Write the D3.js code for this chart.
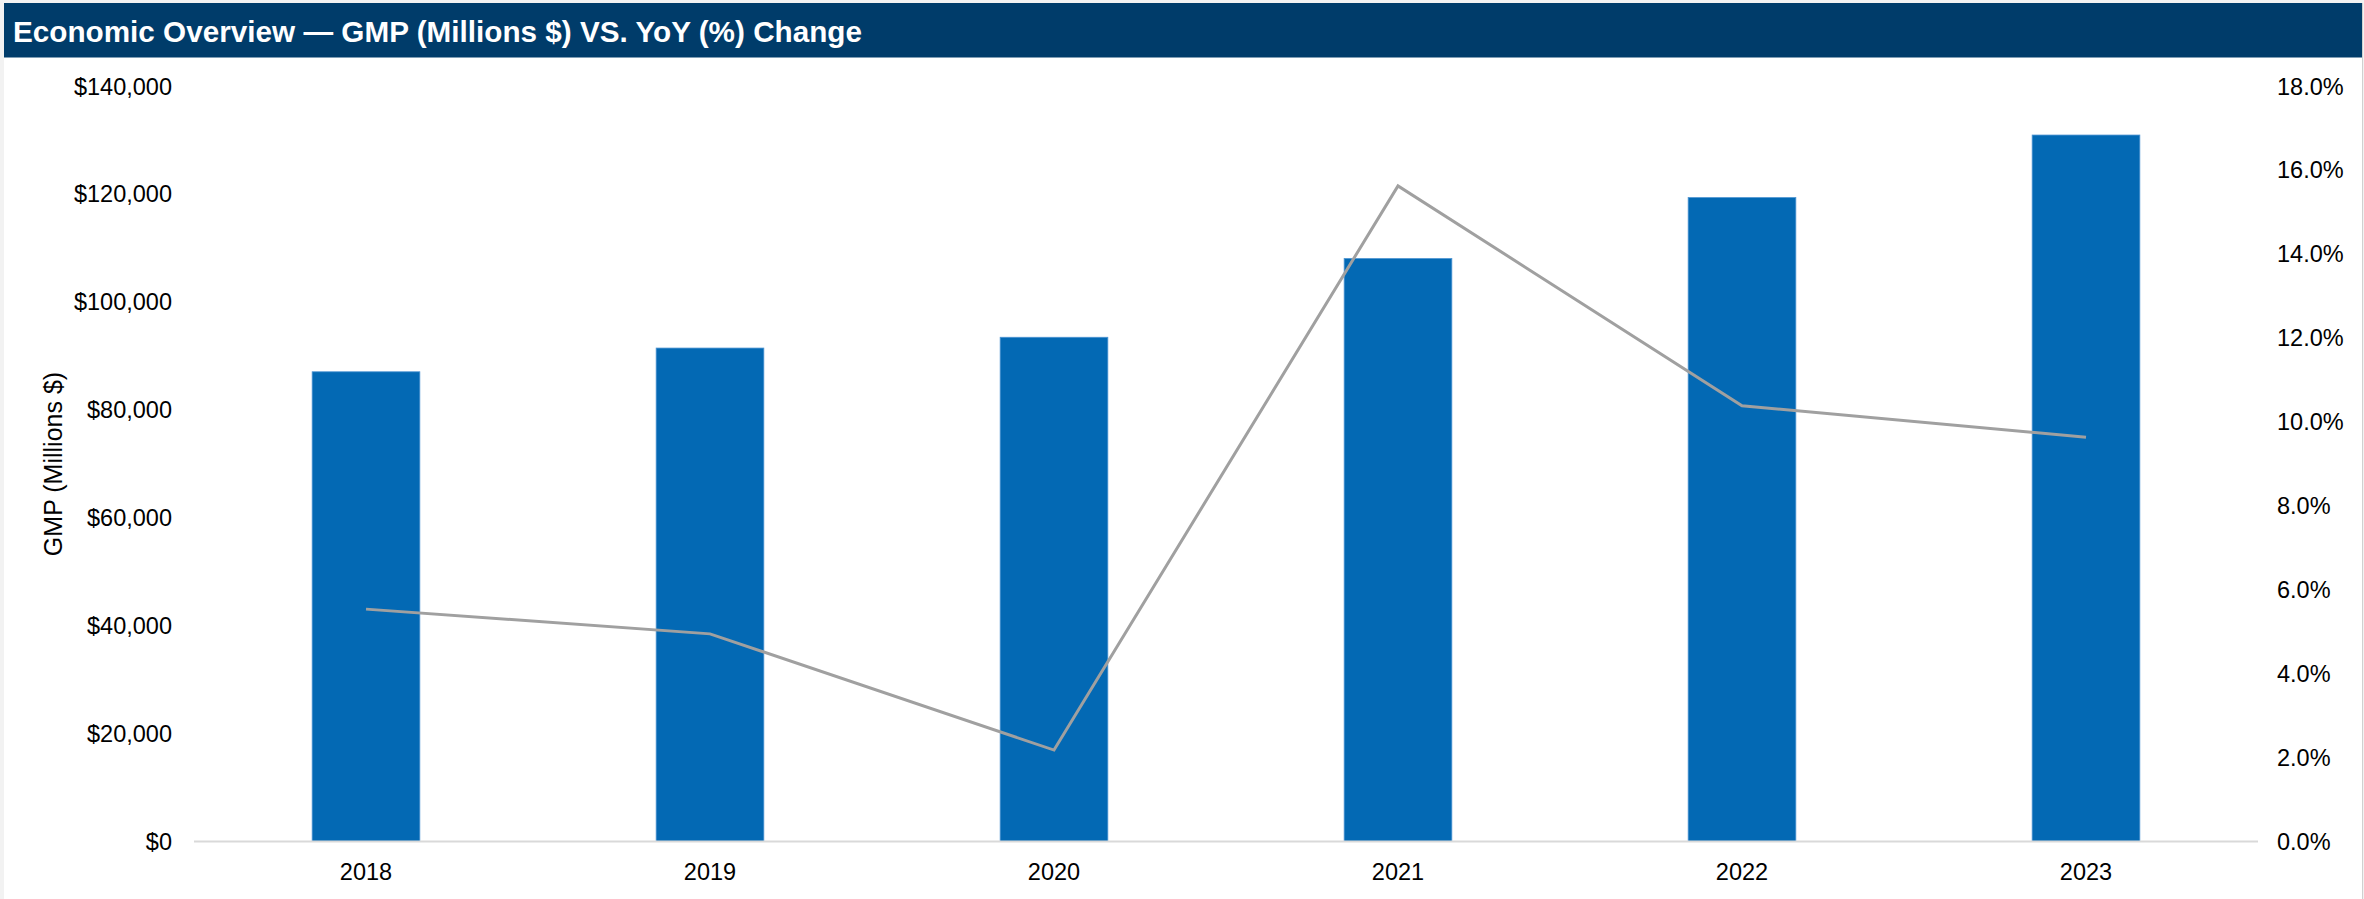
<!DOCTYPE html>
<html>
<head>
<meta charset="utf-8">
<script src="https://cdn.jsdelivr.net/npm/d3@7/dist/d3.min.js"></script>
<style>
  html, body { margin: 0; padding: 0; background: #f2f2f2; }
  svg { display: block; }
  text { font-family: "Liberation Sans", Arial, Helvetica, sans-serif; }
</style>
</head>
<body>
<svg id="chart" width="2364" height="899"></svg>
<script>
// Chart data
const years = ["2018", "2019", "2020", "2021", "2022", "2023"];
const gmp = [87100, 91500, 93500, 108100, 119400, 131000];   // GMP, millions of dollars
const yoy = [0.0554, 0.0495, 0.0218, 0.1563, 0.1039, 0.0964]; // year-over-year change
const gmpTicks = [0, 20000, 40000, 60000, 80000, 100000, 120000, 140000];
const yoyTicks = [0, 0.02, 0.04, 0.06, 0.08, 0.10, 0.12, 0.14, 0.16, 0.18];

const titleText = "Economic Overview \u2014 GMP (Millions $) VS. YoY (%) Change";
const leftAxisTitle = "GMP (Millions $)";

const W = 2364, H = 899;
const plot = { left: 194, right: 2258, top: 86.5, bottom: 841.5 };

const svg = d3.select("#chart");

// Panel background and frame
svg.append("rect")
  .attr("x", 4).attr("y", 3).attr("width", W - 6).attr("height", H - 3)
  .attr("fill", "#ffffff");
svg.append("line")
  .attr("x1", W - 1.5).attr("x2", W - 1.5).attr("y1", 3).attr("y2", H)
  .attr("stroke", "#d0d0d0").attr("stroke-width", 1);

// Title banner
svg.append("rect")
  .attr("x", 4).attr("y", 3).attr("width", W - 6).attr("height", 54.5)
  .attr("fill", "#003c6a");
svg.append("text")
  .attr("x", 13).attr("y", 41.5)
  .attr("fill", "#ffffff")
  .attr("font-size", 29.5)
  .attr("font-weight", "bold")
  .attr("textLength", 849)
  .attr("lengthAdjust", "spacingAndGlyphs")
  .text(titleText);

// Scales
const x = d3.scaleBand()
  .domain(years)
  .range([plot.left, plot.right])
  .paddingInner(0.687)
  .paddingOuter(0.3435);

const yL = d3.scaleLinear().domain([0, 140000]).range([plot.bottom, plot.top]);
const yR = d3.scaleLinear().domain([0, 0.18]).range([plot.bottom, plot.top]);

// Bars
svg.append("g").selectAll("rect")
  .data(years)
  .join("rect")
  .attr("x", d => x(d))
  .attr("width", x.bandwidth())
  .attr("y", (d, i) => yL(gmp[i]))
  .attr("height", (d, i) => yL(0) - yL(gmp[i]))
  .attr("fill", "#0369b4")
  .attr("stroke", "#4d94d2")
  .attr("stroke-width", 0.8);

// Baseline
svg.append("line")
  .attr("x1", plot.left).attr("x2", plot.right)
  .attr("y1", plot.bottom).attr("y2", plot.bottom)
  .attr("stroke", "#d9d9d9").attr("stroke-width", 2);

// YoY line
const line = d3.line()
  .x((d, i) => x(years[i]) + x.bandwidth() / 2)
  .y(d => yR(d));
svg.append("path")
  .datum(yoy)
  .attr("d", line)
  .attr("fill", "none")
  .attr("stroke", "#a0a0a0")
  .attr("stroke-width", 3)
  .attr("stroke-linejoin", "miter");

// Left axis
const leftAxis = d3.axisLeft(yL)
  .tickValues(gmpTicks)
  .tickFormat(d3.format("$,.0f"))
  .tickSize(0)
  .tickPadding(22);
const gL = svg.append("g")
  .attr("transform", `translate(${plot.left},0)`)
  .call(leftAxis);
gL.select(".domain").remove();
gL.selectAll("text")
  .attr("font-size", 23.5)
  .attr("fill", "#000")
  .style("font-family", '"Liberation Sans", Arial, sans-serif');

// Right axis
const rightAxis = d3.axisRight(yR)
  .tickValues(yoyTicks)
  .tickFormat(d3.format(".1%"))
  .tickSize(0)
  .tickPadding(19);
const gR = svg.append("g")
  .attr("transform", `translate(${plot.right},0)`)
  .call(rightAxis);
gR.select(".domain").remove();
gR.selectAll("text")
  .attr("font-size", 23.5)
  .attr("fill", "#000")
  .style("font-family", '"Liberation Sans", Arial, sans-serif');

// Bottom axis
const bottomAxis = d3.axisBottom(x).tickSize(0).tickPadding(22);
const gB = svg.append("g")
  .attr("transform", `translate(0,${plot.bottom})`)
  .call(bottomAxis);
gB.select(".domain").remove();
gB.selectAll("text")
  .attr("font-size", 23.5)
  .attr("fill", "#000")
  .style("font-family", '"Liberation Sans", Arial, sans-serif');

// Left axis title
svg.append("text")
  .attr("transform", `translate(62,${(plot.top + plot.bottom) / 2}) rotate(-90)`)
  .attr("text-anchor", "middle")
  .attr("font-size", 25)
  .attr("fill", "#000")
  .text(leftAxisTitle);
</script>
</body>
</html>
